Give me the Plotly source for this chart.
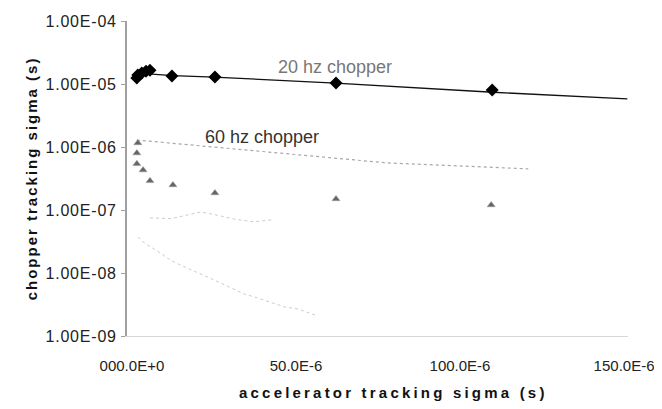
import plotly.graph_objects as go

# ---- data (x in seconds, y in seconds) ----
hz20_x = [1.5e-6, 1.8e-6, 3.0e-6, 4.3e-6, 5.5e-6, 12.2e-6, 25.3e-6, 62.2e-6, 109.8e-6]
hz20_y = [1.25e-5, 1.39e-5, 1.50e-5, 1.60e-5, 1.65e-5, 1.34e-5, 1.29e-5, 1.04e-5, 8.0e-6]

hz20_trend_x = [1.5e-6, 5.0e-6, 12.5e-6, 25e-6, 62e-6, 110e-6, 151e-6]
hz20_trend_y = [1.28e-5, 1.45e-5, 1.36e-5, 1.29e-5, 1.03e-5, 7.4e-6, 5.8e-6]

hz60_x = [1.8e-6, 1.5e-6, 1.5e-6, 3.4e-6, 5.5e-6, 12.5e-6, 25.3e-6, 62.2e-6, 109.5e-6]
hz60_y = [1.16e-6, 8.0e-7, 5.4e-7, 4.3e-7, 2.9e-7, 2.5e-7, 1.86e-7, 1.5e-7, 1.2e-7]

hz60_trend_x = [1.5e-6, 20.7e-6, 77.6e-6, 120.8e-6]
hz60_trend_y = [1.29e-6, 1.04e-6, 5.6e-7, 4.5e-7]

faint_a_x = [5.5e-6, 12e-6, 21e-6, 25e-6, 31e-6, 37e-6, 43e-6]
faint_a_y = [7.5e-8, 7.3e-8, 9.3e-8, 8.5e-8, 7.2e-8, 6.5e-8, 7.0e-8]

faint_b_x = [1.9e-6, 3.4e-6, 8.6e-6, 12.2e-6, 17.4e-6, 23.8e-6, 34.2e-6, 38.4e-6, 46.7e-6, 50.6e-6, 55.8e-6]
faint_b_y = [3.73e-8, 3.1e-8, 2.08e-8, 1.55e-8, 1.16e-8, 8.3e-9, 4.65e-9, 4.0e-9, 2.88e-9, 2.68e-9, 2.15e-9]

x_ticks = [0, 50e-6, 100e-6, 150e-6]
x_tick_text = ["000.0E+0", "50.0E-6", "100.0E-6", "150.0E-6"]
y_ticks = [1e-9, 1e-8, 1e-7, 1e-6, 1e-5, 1e-4]
y_tick_text = ["1.00E-09", "1.00E-08", "1.00E-07", "1.00E-06", "1.00E-05", "1.00E-04"]

FONT = "Liberation Sans, Arial, sans-serif"


def spaced(s, px):
    return "<span style='letter-spacing:%spx'>%s</span>" % (px, s)


fig = go.Figure()
fig.add_trace(go.Scatter(x=faint_b_x, y=faint_b_y, mode="lines",
                         line=dict(color="#cccccc", width=1, dash="dot"), showlegend=False))
fig.add_trace(go.Scatter(x=faint_a_x, y=faint_a_y, mode="lines",
                         line=dict(color="#cccccc", width=1, dash="dot"), showlegend=False))
fig.add_trace(go.Scatter(x=hz60_trend_x, y=hz60_trend_y, mode="lines",
                         line=dict(color="#a8a8a8", width=1.2, dash="dot"), showlegend=False))
fig.add_trace(go.Scatter(x=hz60_x, y=hz60_y, mode="markers",
                         marker=dict(symbol="triangle-up", size=7, color="#666666",
                                     line=dict(color="#999999", width=0.5)), showlegend=False))
fig.add_trace(go.Scatter(x=hz20_trend_x, y=hz20_trend_y, mode="lines",
                         line=dict(color="#111111", width=1.3), showlegend=False))
fig.add_trace(go.Scatter(x=hz20_x, y=hz20_y, mode="markers",
                         marker=dict(symbol="diamond", size=10, color="#000000"), showlegend=False))

fig.update_layout(
    width=654, height=401,
    margin=dict(l=119, r=34, t=13, b=73),
    paper_bgcolor="white", plot_bgcolor="white",
    font=dict(family=FONT, size=16, color="#222222"),
    xaxis=dict(range=[-1.5e-6, 151.2e-6], tickvals=x_ticks, ticktext=x_tick_text,
               showgrid=False, zeroline=False, showline=True, linecolor="#d8d8d8", linewidth=1,
               ticks="", ticklabelstandoff=16, automargin=False, ticklabeloverflow="allow",
               tickfont=dict(size=15, color="#222222")),
    yaxis=dict(type="log", range=[-9, -4], tickvals=y_ticks,
               ticktext=[spaced(t, 0.8) for t in y_tick_text],
               showgrid=False, zeroline=False, showline=True, linecolor="#a0a0a0", linewidth=2,
               ticks="outside", ticklen=4, tickcolor="#a0a0a0", tickwidth=1,
               ticklabelstandoff=1, automargin=False, ticklabeloverflow="allow",
               tickfont=dict(size=16, color="#222222")),
    annotations=[
        dict(text="20 hz chopper", xref="paper", yref="paper", x=0.415, y=0.854,
             xanchor="center", yanchor="middle",
             showarrow=False, font=dict(family=FONT, size=18, color="#777777")),
        dict(text="60 hz chopper", xref="paper", yref="paper", x=0.269, y=0.632,
             xanchor="center", yanchor="middle",
             showarrow=False, font=dict(family=FONT, size=18, color="#333333")),
        dict(text="<b>" + spaced("chopper tracking sigma (s)", 2) + "</b>",
             xref="paper", yref="paper", x=-0.19, y=0.5, textangle=-90, showarrow=False,
             xanchor="center", yanchor="middle",
             font=dict(family=FONT, size=15, color="#111111")),
        dict(text="<b>" + spaced("accelerator tracking sigma (s)", 3.2) + "</b>",
             xref="paper", yref="paper", x=0.531, y=-0.178, showarrow=False,
             xanchor="center", yanchor="middle",
             font=dict(family=FONT, size=15, color="#111111")),
    ],
)

fig.write_html("out.html")
